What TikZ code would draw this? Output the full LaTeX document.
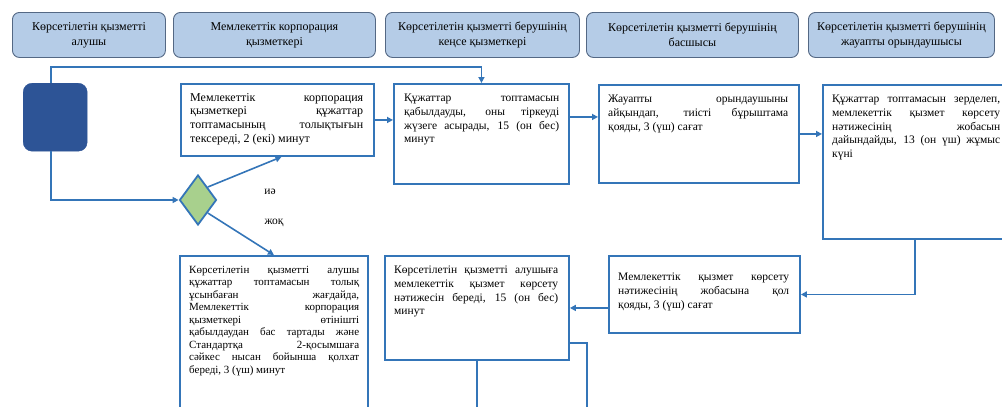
\documentclass[tikz,border=0pt]{standalone}
\usepackage{fontspec}
\setmainfont{Liberation Serif}
\usetikzlibrary{arrows.meta, shapes.geometric}

\definecolor{hdrfill}{RGB}{181,204,231}
\definecolor{hdrline}{RGB}{84,104,132}
\definecolor{flowblue}{RGB}{52,117,184}
\definecolor{startblue}{RGB}{45,84,150}
\definecolor{decgreen}{RGB}{168,208,141}
\tolerance=10000
\hbadness=10000

\begin{document}
\begin{tikzpicture}[
  x=1pt, y=-1pt,
  lane/.style={rectangle, draw=hdrline, fill=hdrfill, line width=0.9pt,
               rounded corners=7pt, minimum height=45pt, anchor=north west,
               align=center, inner sep=2pt, font=\fontsize{12}{15}\selectfont},
  stepbox/.style={rectangle, draw=flowblue, line width=1.9pt, fill=white,
                  anchor=north west, inner sep=0pt},
  startbox/.style={rectangle, draw=startblue, fill=startblue, rounded corners=9pt,
                   anchor=north west, minimum width=64pt, minimum height=68pt},
  decision/.style={diamond, draw=flowblue, fill=decgreen, line width=1.8pt,
                   inner sep=0pt, minimum width=37pt, minimum height=50pt},
  txt/.style={anchor=north west, inner sep=0pt, align=justify,
              font=\fontsize{11.5}{13.7}\selectfont},
  arr/.style={-{Triangle[length=6pt,width=6pt]}, draw=flowblue, line width=1.6pt},
  line/.style={draw=flowblue, line width=1.6pt},
  lbl/.style={inner sep=0pt, font=\fontsize{11.5}{14}\selectfont}
]
  \path[use as bounding box] (0,0) rectangle (1002,407);
  \clip (0,0) rectangle (1002,407);

  \node[lane, minimum width=153pt] (lane1) at (12,12) {Көрсетілетін қызметті\\алушы};
  \node[lane, minimum width=202pt] (lane2) at (173,12) {Мемлекеттік корпорация\\қызметкері};
  \node[lane, minimum width=194pt] (lane3) at (385,12) {Көрсетілетін қызметті берушінің\\кеңсе қызметкері};
  \node[lane, minimum width=212pt] (lane4) at (586,12) {Көрсетілетін қызметті берушінің\\басшысы};
  \node[lane, minimum width=186pt] (lane5) at (808,12) {Көрсетілетін қызметті берушінің\\жауапты орындаушысы};

  \node[startbox] (start) at (23,83) {};
  \node[decision] (dec) at (198,200) {};

  \node[stepbox, minimum width=193pt, minimum height=72pt] (chk) at (180,83) {};
  \node[stepbox, minimum width=175pt, minimum height=100pt] (reg) at (393,83) {};
  \node[stepbox, minimum width=200pt, minimum height=98pt] (head) at (598,84) {};
  \node[stepbox, minimum width=190pt, minimum height=154pt] (exec) at (822,84) {};
  \node[stepbox, minimum width=188pt, minimum height=170pt] (rej) at (179,255) {};
  \node[stepbox, minimum width=184pt, minimum height=104pt] (res) at (384,255) {};
  \node[stepbox, minimum width=191pt, minimum height=77pt] (sign) at (608,255) {};

  \node[txt, text width=173pt, font=\fontsize{12}{13.7}\selectfont] (chktext) at ([shift={(10pt,-10pt)}]chk.north west)
    {Мемлекеттік корпорация\linebreak қызметкері құжаттар\linebreak топтамасының толықтығын\linebreak тексереді, 2 (екі) минут};
  \node[txt, text width=155pt] (regtext) at ([shift={(11pt,-11pt)}]reg.north west)
    {Құжаттар топтамасын\linebreak қабылдауды, оны тіркеуді\linebreak жүзеге асырады, 15 (он бес)\linebreak минут};
  \node[txt, text width=180pt] (headtext) at ([shift={(10pt,-11pt)}]head.north west)
    {Жауапты орындаушыны\linebreak айқындап, тиісті бұрыштама\linebreak қояды, 3 (үш) сағат};
  \node[txt, text width=168pt] (exectext) at ([shift={(10pt,-11pt)}]exec.north west)
    {Құжаттар топтамасын зерделеп,\linebreak мемлекеттік қызмет көрсету\linebreak нәтижесінің жобасын\linebreak дайындайды, 13 (он үш) жұмыс\linebreak күні};
  \node[txt, text width=170pt, font=\fontsize{11}{12.5}\selectfont] (rejtext) at ([shift={(10pt,-11pt)}]rej.north west)
    {Көрсетілетін қызметті алушы\linebreak құжаттар топтамасын толық\linebreak ұсынбаған жағдайда,\linebreak Мемлекеттік корпорация\linebreak қызметкері өтінішті\linebreak қабылдаудан бас тартады және\linebreak Стандартқа 2-қосымшаға\linebreak сәйкес нысан бойынша қолхат\linebreak береді, 3 (үш) минут};
  \node[txt, text width=164pt] (restext) at ([shift={(10pt,-11pt)}]res.north west)
    {Көрсетілетін қызметті алушыға\linebreak мемлекеттік қызмет көрсету\linebreak нәтижесін береді, 15 (он бес)\linebreak минут};
  \node[txt, text width=171pt] (signtext) at ([shift={(10pt,-18pt)}]sign.north west)
    {Мемлекеттік қызмет көрсету\linebreak нәтижесінің жобасына қол\linebreak қояды, 3 (үш) сағат};

  \node[lbl] (yes) at (270,192) {иә};
  \node[lbl] (no) at (274,223) {жоқ};

  \coordinate (cut1) at (476,420);
  \coordinate (cut2) at (587,420);

  \draw[arr] ([xshift=-4pt]start.north) |- ([yshift=16pt]reg.north) -- (reg.north);
  \draw[arr] ([xshift=-4pt]start.south) |- (dec.west);
  \draw[arr] (dec.north east) -- ([xshift=4pt]chk.south);
  \draw[arr] (dec.south east) -- (rej.north);
  \draw[arr] (chk.east) -- (chk.east -| reg.west);
  \draw[arr] ([yshift=17pt]reg.east) -- ([yshift=17pt]head.west);
  \draw[arr] (head.east) -- (head.east -| exec.west);
  \draw[arr] ([xshift=-3pt]exec.south) |- (sign.east);
  \draw[arr] (sign.west |- res.east) -- (res.east);
  \draw[line] (res.south) -- (res.south |- cut1);
  \draw[line] ([yshift=-35pt]res.east) -| (cut2);
\end{tikzpicture}
\end{document}
